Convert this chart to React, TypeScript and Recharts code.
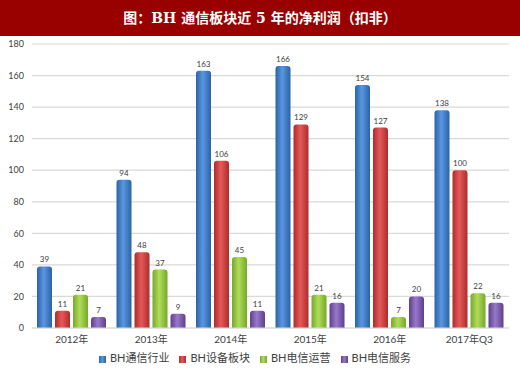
import { Bar, BarChart, CartesianGrid, LabelList, Legend, XAxis, YAxis } from "recharts"

const categories = ["2012年", "2013年", "2014年", "2015年", "2016年", "2017年Q3"]
const telecomIndustry = [39, 94, 163, 166, 154, 138]
const equipment = [11, 48, 106, 129, 127, 100]
const operators = [21, 37, 45, 21, 7, 22]
const services = [7, 9, 11, 16, 20, 16]
const yTicks = [0, 20, 40, 60, 80, 100, 120, 140, 160, 180]

const data = categories.map((name, i) => ({
  name,
  industry: telecomIndustry[i],
  equipment: equipment[i],
  operators: operators[i],
  services: services[i],
}))

const series = [
  { key: "industry", name: "BH通信行业", edge: "#2a62a8", mid: "#5a97df", color: "#3a78c8" },
  { key: "equipment", name: "BH设备板块", edge: "#b02a2a", mid: "#e45a5a", color: "#c83a3a" },
  { key: "operators", name: "BH电信运营", edge: "#76a82a", mid: "#b0dc5a", color: "#8fc43a" },
  { key: "services", name: "BH电信服务", edge: "#5e3f8e", mid: "#9878c8", color: "#7a55aa" },
]
const seriesOrder = series.map((s) => s.key)

const font = "Lato, 'Noto Sans CJK SC', sans-serif"

export default function App() {
  return (
    <div style={{ position: "fixed", top: 0, left: 0, width: 520, height: 369, background: "#fff", fontFamily: font }}>
      <div
        style={{
          position: "absolute",
          top: 0,
          left: 0,
          width: 520,
          height: 36,
          background: "#990000",
          color: "#fff",
          fontFamily: "'DejaVu Serif', 'Noto Sans CJK SC', serif",
          fontWeight: "bold",
          fontSize: 14,
          lineHeight: "36px",
          textAlign: "center",
        }}
      >
        图：BH 通信板块近 5 年的净利润（扣非）
      </div>
      <BarChart
        width={520}
        height={369}
        data={data}
        margin={{ top: 44, right: 11, left: 0, bottom: 0 }}
        barSize={15}
        barGap={3}
      >
        <defs>
          {series.map((s) => (
            <linearGradient key={s.key} id={`g-${s.key}`} x1="0" y1="0" x2="1" y2="0">
              <stop offset="0%" stopColor={s.edge} />
              <stop offset="45%" stopColor={s.mid} />
              <stop offset="100%" stopColor={s.edge} />
            </linearGradient>
          ))}
        </defs>
        <CartesianGrid vertical={false} stroke="#d9d9d9" strokeWidth={1.2} />
        <XAxis
          dataKey="name"
          height={41}
          tickLine={false}
          axisLine={{ stroke: "#d9d9d9", strokeWidth: 1.2 }}
          tick={{ fontSize: 10, fill: "#404040", fontFamily: font }}
          interval={0}
        />
        <YAxis
          width={32}
          domain={[0, 180]}
          ticks={yTicks}
          tickLine={false}
          axisLine={false}
          tick={{ fontSize: 9, fill: "#404040", fontFamily: font }}
        />
        <Legend
          layout="horizontal"
          verticalAlign="middle"
          align="center"
          iconType="square"
          iconSize={7}
          itemSorter={(item: any) => seriesOrder.indexOf(item.dataKey)}
          wrapperStyle={{ top: 349, left: 0, width: 520, fontSize: 11, fontFamily: font }}
          formatter={(v) => <span style={{ color: "#404040" }}>{v}</span>}
        />
        {series.map((s) => (
          <Bar
            key={s.key}
            dataKey={s.key}
            name={s.name}
            fill={`url(#g-${s.key})`}
            radius={[3, 3, 0, 0]}
            isAnimationActive={false}
          >
            <LabelList dataKey={s.key} position="top" offset={4} style={{ fontSize: 8, fill: "#404040", fontFamily: font }} />
          </Bar>
        ))}
      </BarChart>
    </div>
  )
}
